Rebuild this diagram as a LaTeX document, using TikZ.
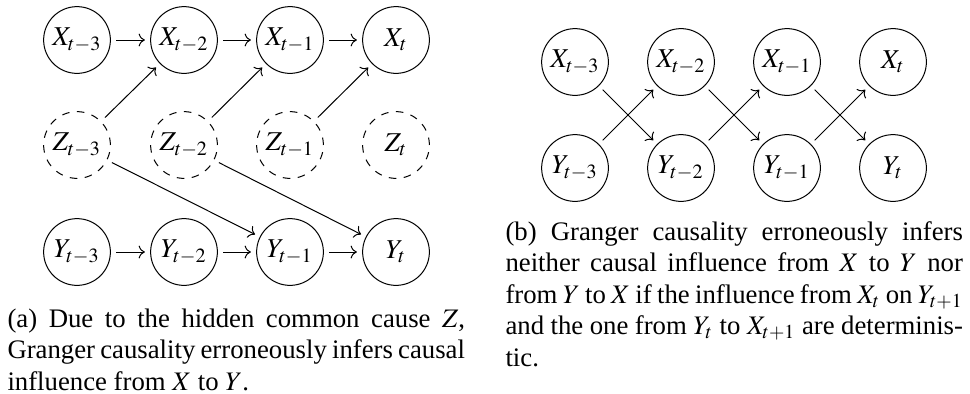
\documentclass[tikz,border=0pt]{standalone}
\usepackage{mathptmx}
\usepackage[no-math]{fontspec}
\setmainfont{Liberation Serif}
\usepackage{tikz}
\usetikzlibrary{arrows.meta,positioning}

\begin{document}
\begin{tikzpicture}[x=0.4pt,y=-0.4pt,
  var/.style={circle,draw,minimum size=26.7pt,inner sep=0pt,outer sep=2.3pt,
    font=\fontsize{10.9}{13}\selectfont},
  hidden/.style={var,dashed},
  cause/.style={->},
  capt/.style={text width=183pt,align=justify,inner sep=0pt,anchor=base west,
    font=\fontsize{10.7}{12.65}\selectfont}]
  \useasboundingbox (0,0) rectangle (970,393);

  % (a) hidden common cause
  \node[var] (xa3) at (77,40) {$X_{t-3}$};
  \node[var] (xa2) at (184,40) {$X_{t-2}$};
  \node[var] (xa1) at (290,40) {$X_{t-1}$};
  \node[var] (xa0) at (396,40) {$X_t$};
  \node[hidden] (za3) at (77,145) {$Z_{t-3}$};
  \node[hidden] (za2) at (184,145) {$Z_{t-2}$};
  \node[hidden] (za1) at (290,145) {$Z_{t-1}$};
  \node[hidden] (za0) at (396,145) {$Z_t$};
  \node[var] (ya3) at (77,252) {$Y_{t-3}$};
  \node[var] (ya2) at (184,252) {$Y_{t-2}$};
  \node[var] (ya1) at (290,252) {$Y_{t-1}$};
  \node[var] (ya0) at (396,252) {$Y_t$};

  \draw[cause] (xa3) -- (xa2);
  \draw[cause] (xa2) -- (xa1);
  \draw[cause] (xa1) -- (xa0);
  \draw[cause] (ya3) -- (ya2);
  \draw[cause] (ya2) -- (ya1);
  \draw[cause] (ya1) -- (ya0);
  \draw[cause] (za3) -- (xa2);
  \draw[cause] (za2) -- (xa1);
  \draw[cause] (za1) -- (xa0);
  \draw[cause] (za3) -- (ya1);
  \draw[cause] (za2) -- (ya0);

  \node[capt] (capa) at (7,327) {(a) Due to the hidden common cause $Z$,
    Granger causality erroneously infers causal influence from $X$ to $Y$.};

  % (b) deterministic coupling
  \node[var] (xb3) at (575,62) {$X_{t-3}$};
  \node[var] (xb2) at (681,62) {$X_{t-2}$};
  \node[var] (xb1) at (787,62) {$X_{t-1}$};
  \node[var] (xb0) at (893,62) {$X_t$};
  \node[var] (yb3) at (575,168) {$Y_{t-3}$};
  \node[var] (yb2) at (681,168) {$Y_{t-2}$};
  \node[var] (yb1) at (787,168) {$Y_{t-1}$};
  \node[var] (yb0) at (893,168) {$Y_t$};

  \draw[cause] (xb3) -- (yb2);
  \draw[cause] (yb3) -- (xb2);
  \draw[cause] (xb2) -- (yb1);
  \draw[cause] (yb2) -- (xb1);
  \draw[cause] (xb1) -- (yb0);
  \draw[cause] (yb1) -- (xb0);

  \node[capt] (capb) at (505,240) {(b) Granger causality erroneously infers
    neither causal influence from $X$ to $Y$ nor from $Y$ to $X$ if the
    influence from $X_t$ on $Y_{t+1}$ and the one from $Y_t$ to $X_{t+1}$
    are deterministic.};
\end{tikzpicture}
\end{document}
